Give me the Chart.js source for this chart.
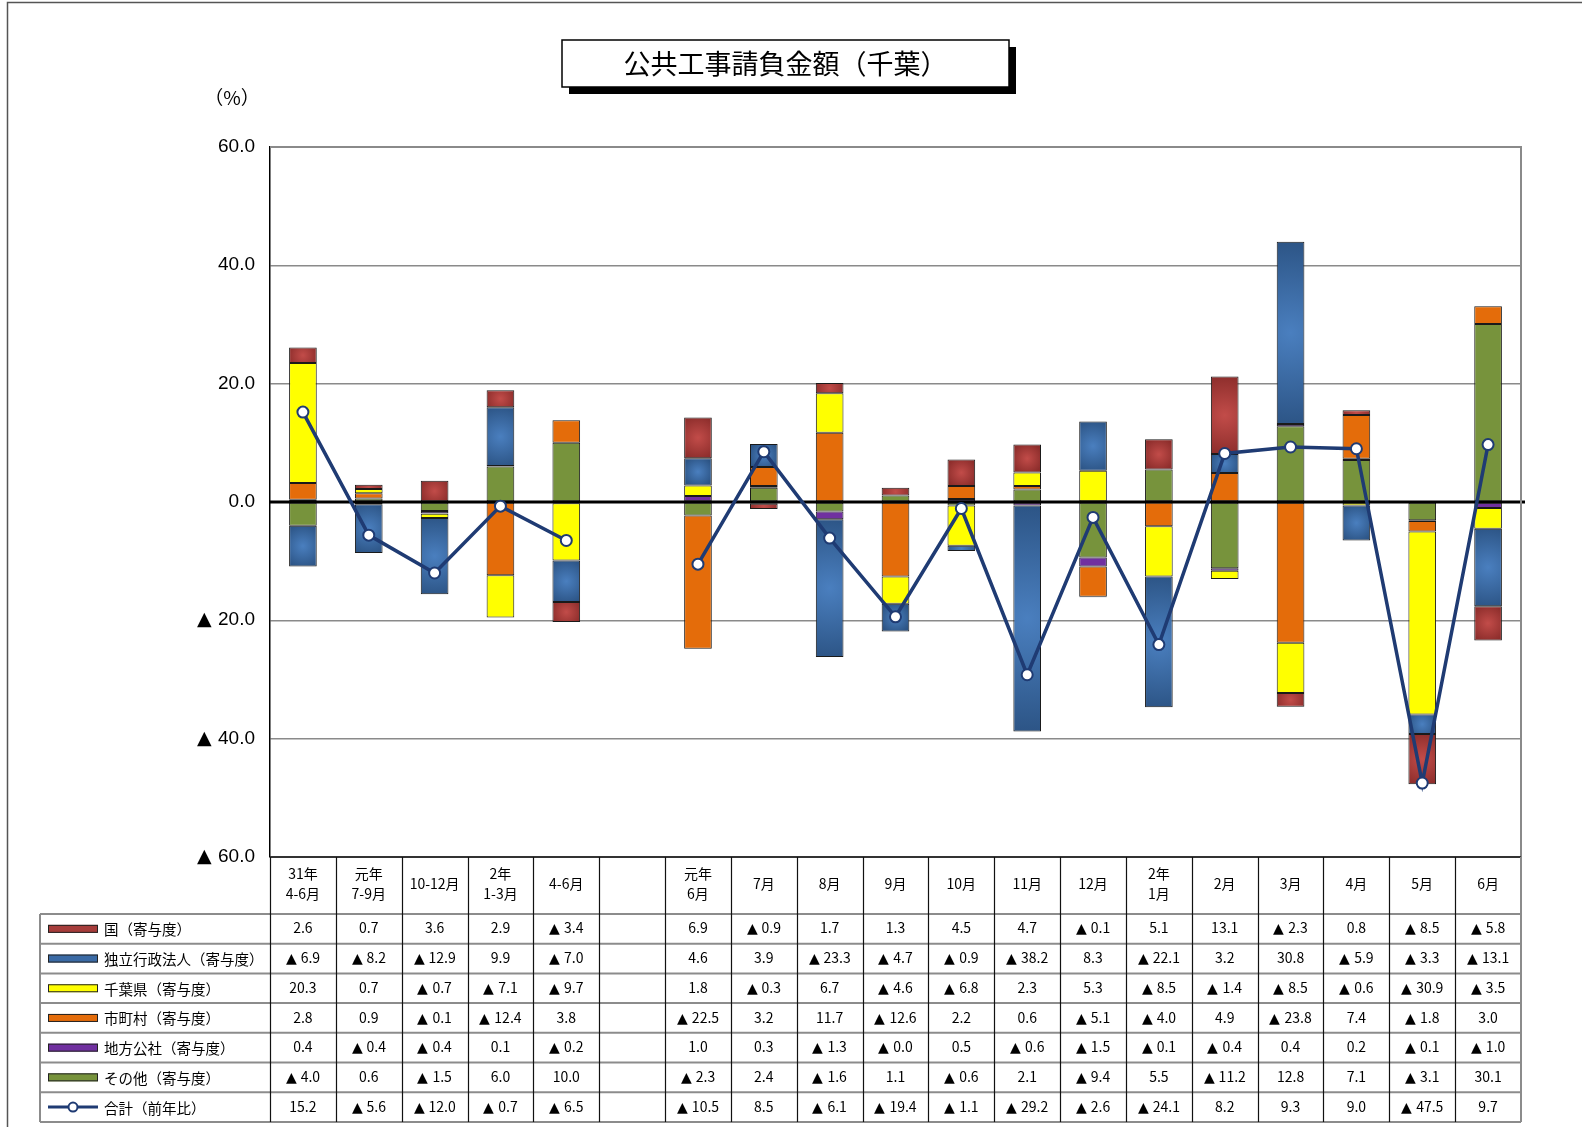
<!DOCTYPE html>
<html lang="ja">
<head>
<meta charset="utf-8">
<title>公共工事請負金額（千葉）</title>
<script src="https://cdn.jsdelivr.net/npm/chart.js@4.4.1/dist/chart.umd.min.js"></script>
<style>
  /* ▲ と空白だけ DejaVu Sans の字形を使う */
  @font-face { font-family: 'MarkGlyph'; src: local('DejaVu Sans'); unicode-range: U+0020, U+25B2; }
  html, body { margin: 0; padding: 0; background: #fff; }
  #wrap { position: relative; width: 1582px; height: 1127px; }
</style>
</head>
<body>
<div id="wrap"><canvas id="myChart" width="1582" height="1127"></canvas></div>
<script>
// 期間ラベル（表の見出し）。6列目は四半期と月次の間の空き列
const periods = [
  ['31年', '4-6月'], ['元年', '7-9月'], ['10-12月'], ['2年', '1-3月'], ['4-6月'], [''],
  ['元年', '6月'], ['7月'], ['8月'], ['9月'], ['10月'], ['11月'], ['12月'],
  ['2年', '1月'], ['2月'], ['3月'], ['4月'], ['5月'], ['6月']
];

// 寄与度（%）
const kuni       = [2.6, 0.7, 3.6, 2.9, -3.4, null, 6.9, -0.9, 1.7, 1.3, 4.5, 4.7, -0.1, 5.1, 13.1, -2.3, 0.8, -8.5, -5.8];
const dokuritsu  = [-6.9, -8.2, -12.9, 9.9, -7.0, null, 4.6, 3.9, -23.3, -4.7, -0.9, -38.2, 8.3, -22.1, 3.2, 30.8, -5.9, -3.3, -13.1];
const chibaken   = [20.3, 0.7, -0.7, -7.1, -9.7, null, 1.8, -0.3, 6.7, -4.6, -6.8, 2.3, 5.3, -8.5, -1.4, -8.5, -0.6, -30.9, -3.5];
const shichoson  = [2.8, 0.9, -0.1, -12.4, 3.8, null, -22.5, 3.2, 11.7, -12.6, 2.2, 0.6, -5.1, -4.0, 4.9, -23.8, 7.4, -1.8, 3.0];
const chihoKosha = [0.4, -0.4, -0.4, 0.1, -0.2, null, 1.0, 0.3, -1.3, -0.0, 0.5, -0.6, -1.5, -0.1, -0.4, 0.4, 0.2, -0.1, -1.0];
const sonota     = [-4.0, 0.6, -1.5, 6.0, 10.0, null, -2.3, 2.4, -1.6, 1.1, -0.6, 2.1, -9.4, 5.5, -11.2, 12.8, 7.1, -3.1, 30.1];
// 合計（前年比）
const gokei      = [15.2, -5.6, -12.0, -0.7, -6.5, null, -10.5, 8.5, -6.1, -19.4, -1.1, -29.2, -2.6, -24.1, 8.2, 9.3, 9.0, -47.5, 9.7];

const yTicks = [60, 40, 20, 0, -20, -40, -60];

const NAVY = '#1f3b73';
const CJK = "'Noto Sans CJK JP'";
const NARROW = "'MarkGlyph', 'Liberation Sans Narrow', 'Arial Narrow', " + CJK + ", sans-serif";
const AXIS = "'MarkGlyph', 'Liberation Sans', " + CJK;

// ▲ は負の値
const fmt = (v) => (v < 0 || Object.is(v, -0)) ? '▲ ' + Math.abs(v).toFixed(1) : v.toFixed(1);

// 表の行（凡例を兼ねる）
const rows = [
  { name: '国（寄与度）', values: kuni, fill: '#a63c3a' },
  { name: '独立行政法人（寄与度）', values: dokuritsu, fill: '#3a6aa5' },
  { name: '千葉県（寄与度）', values: chibaken, fill: '#ffff00' },
  { name: '市町村（寄与度）', values: shichoson, fill: '#e46c0a' },
  { name: '地方公社（寄与度）', values: chihoKosha, fill: '#7030a0' },
  { name: 'その他（寄与度）', values: sonota, fill: '#77933c' },
  { name: '合計（前年比）', values: gokei, line: true }
];

// 国・独立行政法人は中心が明るいグラデーション
const shade = {
  '国': ['#c24c49', '#8c2d2b'],
  '独立行政法人': ['#4a7fbf', '#2c5485']
};

const barSet = (label, data, color) => ({
  type: 'bar',
  label,
  data,
  stack: 'parts',
  order: 1,
  backgroundColor: shade[label] ? () => color : color,
  borderColor: '#1a1a1a',
  borderWidth: 1,
  borderSkipped: false,
  barPercentage: 0.42,
  categoryPercentage: 1.0
});

const gradientPlugin = {
  id: 'barShade',
  beforeDatasetsDraw(chart) {
    const ctx = chart.ctx;
    chart.data.datasets.forEach((ds, i) => {
      const pair = shade[ds.label];
      if (!pair) return;
      chart.getDatasetMeta(i).data.forEach((bar) => {
        if (bar.x == null || isNaN(bar.y)) return;
        const h = Math.abs(bar.base - bar.y);
        const cy = (bar.base + bar.y) / 2;
        const r = Math.max(bar.width, h) / 2 + 2;
        const g = ctx.createRadialGradient(bar.x, cy, 0, bar.x, cy, r);
        g.addColorStop(0, pair[0]);
        g.addColorStop(1, pair[1]);
        bar.options.backgroundColor = g;
      });
    });
  }
};

// 0 の軸線は棒の上、合計線の下に引く
const zeroLinePlugin = {
  id: 'zeroLine',
  beforeDatasetDraw(chart, args) {
    if (args.meta.type !== 'line') return;
    const { ctx, chartArea, scales } = chart;
    const y0 = scales.y.getPixelForValue(0);
    ctx.save();
    ctx.strokeStyle = '#000';
    ctx.lineWidth = 3;
    ctx.beginPath();
    ctx.moveTo(chartArea.left, y0);
    ctx.lineTo(chartArea.right + 4, y0);
    ctx.stroke();
    ctx.restore();
  }
};

const framePlugin = {
  id: 'frame',
  beforeDraw(chart) {
    const { ctx, width, height } = chart;
    ctx.save();
    ctx.fillStyle = '#fff';
    ctx.fillRect(0, 0, width, height);
    // 外枠
    ctx.strokeStyle = '#555';
    ctx.lineWidth = 1.5;
    ctx.beginPath();
    ctx.moveTo(7.5, height);
    ctx.lineTo(7.5, 2.5);
    ctx.lineTo(width, 2.5);
    ctx.stroke();
    ctx.restore();
  },
  afterDraw(chart) {
    const { ctx, chartArea } = chart;
    ctx.save();
    // タイトル枠（影付き）
    ctx.fillStyle = '#000';
    ctx.fillRect(569, 47, 447, 47);
    ctx.fillStyle = '#fff';
    ctx.fillRect(562, 40, 447, 47);
    ctx.strokeStyle = '#000';
    ctx.lineWidth = 1.5;
    ctx.strokeRect(562, 40, 447, 47);
    ctx.fillStyle = '#000';
    ctx.font = '27px ' + CJK;
    ctx.textAlign = 'center';
    ctx.textBaseline = 'middle';
    ctx.fillText('公共工事請負金額（千葉）', 785.5, 64);
    // 単位
    ctx.font = '19px ' + CJK;
    ctx.fillText('（%）', 232, 98);
    // プロット枠の上・右
    ctx.strokeStyle = '#8a8a8a';
    ctx.lineWidth = 2;
    ctx.beginPath();
    ctx.moveTo(chartArea.left, chartArea.top);
    ctx.lineTo(chartArea.right, chartArea.top);
    ctx.lineTo(chartArea.right, chartArea.bottom);
    ctx.stroke();
    ctx.restore();
  }
};

// データ表（x 軸の列位置に合わせる）
const tablePlugin = {
  id: 'dataTable',
  afterDraw(chart) {
    const { ctx, chartArea, scales } = chart;
    const x = scales.x;
    const n = periods.length;
    const colW = (x.right - x.left) / n;
    const tableLeft = 40;
    const headTop = chartArea.bottom;
    const headH = 57;
    const rowH = 29.7;
    const bodyTop = headTop + headH;
    const bottom = bodyTop + rowH * rows.length;

    ctx.save();
    // 見出し
    ctx.fillStyle = '#000';
    ctx.textAlign = 'center';
    ctx.textBaseline = 'middle';
    ctx.font = '14px ' + NARROW;
    periods.forEach((lines, i) => {
      const cx = x.getPixelForValue(i);
      const cy = headTop + headH / 2;
      if (lines.length === 2) {
        ctx.fillText(lines[0], cx, cy - 10);
        ctx.fillText(lines[1], cx, cy + 10);
      } else {
        ctx.fillText(lines[0], cx, cy);
      }
    });

    // 行
    rows.forEach((row, r) => {
      const cy = bodyTop + rowH * r + rowH / 2;
      // 凡例記号
      if (row.line) {
        ctx.strokeStyle = NAVY;
        ctx.lineWidth = 3;
        ctx.beginPath();
        ctx.moveTo(48, cy);
        ctx.lineTo(98, cy);
        ctx.stroke();
        ctx.fillStyle = '#fff';
        ctx.lineWidth = 2;
        ctx.beginPath();
        ctx.arc(73, cy, 4.5, 0, Math.PI * 2);
        ctx.fill();
        ctx.stroke();
      } else {
        ctx.fillStyle = row.fill;
        ctx.fillRect(48, cy - 4, 50, 8);
        ctx.strokeStyle = '#222';
        ctx.lineWidth = 1;
        ctx.strokeRect(48.5, cy - 3.5, 49, 7);
      }
      ctx.fillStyle = '#000';
      ctx.textAlign = 'left';
      ctx.font = '14.5px ' + CJK;
      ctx.fillText(row.name, 104, cy + 1);
      // 値
      ctx.textAlign = 'center';
      ctx.font = '14px ' + NARROW;
      row.values.forEach((v, i) => {
        if (v == null) return;
        ctx.fillText(fmt(v), x.getPixelForValue(i), cy + 1);
      });
    });

    // 罫線：横
    ctx.strokeStyle = '#8c8c8c';
    ctx.lineWidth = 2;
    for (let r = 0; r <= rows.length; r++) {
      const y = bodyTop + rowH * r;
      ctx.beginPath();
      ctx.moveTo(tableLeft, y);
      ctx.lineTo(x.right, y);
      ctx.stroke();
    }
    ctx.strokeStyle = '#333';
    ctx.beginPath();
    ctx.moveTo(x.left, headTop);
    ctx.lineTo(x.right, headTop);
    ctx.stroke();
    // 罫線：縦
    ctx.beginPath();
    ctx.moveTo(tableLeft, bodyTop);
    ctx.lineTo(tableLeft, bottom);
    ctx.strokeStyle = '#8c8c8c';
    ctx.stroke();
    ctx.strokeStyle = '#111';
    ctx.lineWidth = 1.2;
    for (let i = 0; i < n; i++) {
      const xx = Math.round(x.left + colW * i) + 0.5;
      ctx.beginPath();
      ctx.moveTo(xx, headTop);
      ctx.lineTo(xx, bottom);
      ctx.stroke();
    }
    ctx.strokeStyle = '#8c8c8c';
    ctx.lineWidth = 2;
    ctx.beginPath();
    ctx.moveTo(x.right, headTop);
    ctx.lineTo(x.right, bottom);
    ctx.stroke();
    ctx.restore();
  }
};

const config = {
  data: {
    labels: periods,
    datasets: [
      barSet('その他', sonota, '#77933c'),
      barSet('地方公社', chihoKosha, '#7030a0'),
      barSet('市町村', shichoson, '#e46c0a'),
      barSet('千葉県', chibaken, '#ffff00'),
      barSet('独立行政法人', dokuritsu, '#3a6aa5'),
      barSet('国', kuni, '#a63c3a'),
      {
        type: 'line',
        label: '合計',
        data: gokei,
        stack: 'total',
        order: 0,
        spanGaps: false,
        borderColor: NAVY,
        borderWidth: 3.5,
        pointRadius: 5.5,
        pointBorderWidth: 2,
        pointBackgroundColor: '#fff',
        pointBorderColor: NAVY,
        tension: 0
      }
    ]
  },
  options: {
    responsive: false,
    animation: false,
    devicePixelRatio: 1,
    layout: { padding: { top: 147, right: 61, bottom: 270, left: 0 } },
    plugins: {
      legend: { display: false },
      tooltip: { enabled: false },
      title: { display: false }
    },
    scales: {
      x: {
        display: false,
        stacked: true,
        offset: true
      },
      y: {
        stacked: true,
        min: -60,
        max: 60,
        afterFit: (scale) => { scale.width = 270; },
        afterBuildTicks: (scale) => { scale.ticks = yTicks.map((v) => ({ value: v })); },
        ticks: {
          padding: 15,
          color: '#000',
          font: { size: 19, family: AXIS },
          callback: (v) => fmt(Number(v))
        },
        grid: {
          drawTicks: false,
          lineWidth: 1.5,
          color: (c) => (c.tick && c.tick.value === 0) ? 'rgba(0,0,0,0)' : '#8a8a8a'
        },
        border: { display: true, color: '#000', width: 1.5 }
      }
    }
  },
  plugins: [framePlugin, gradientPlugin, zeroLinePlugin, tablePlugin]
};

let myChart = null;
// ▲ 用の字形を読み込んでから描く
document.fonts.load("19px 'MarkGlyph'", '▲ ').catch(() => null).then(() => {
  myChart = new Chart(document.getElementById('myChart'), config);
});
</script>
</body>
</html>
